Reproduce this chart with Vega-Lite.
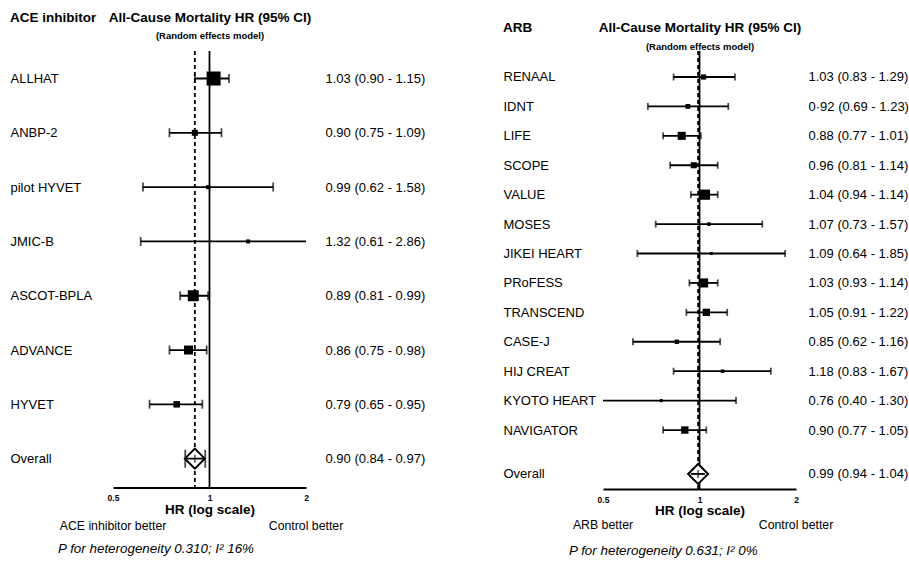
{
  "$schema": "https://vega.github.io/schema/vega-lite/v6.json",
  "padding": {"left": 10, "top": 10, "right": 0, "bottom": 0},
  "spacing": 27,
  "config": {
    "view": {"stroke": null},
    "font": "Liberation Sans",
    "axis": {"labelFont": "Liberation Sans", "titleFont": "Liberation Sans", "labelColor": "black", "titleColor": "black", "grid": false},
    "title": {"font": "Liberation Sans", "color": "black"},
    "text": {"font": "Liberation Sans", "color": "black"}
  },
  "hconcat": [
    {
      "title": {"text": "ACE inhibitor", "anchor": "start", "frame": "bounds", "baseline": "top", "offset": -14, "fontSize": 13.5, "fontWeight": "bold"},
      "width": 193,
      "height": 436.5,
      "data": {"values": [
        {"study": "ALLHAT", "hr": 1.03, "lo": 0.90, "hi": 1.15, "ci": "1.03 (0.90 - 1.15)", "weight": 38.7},
        {"study": "ANBP-2", "hr": 0.90, "lo": 0.75, "hi": 1.09, "ci": "0.90 (0.75 - 1.09)", "weight": 7.1},
        {"study": "pilot HYVET", "hr": 0.99, "lo": 0.62, "hi": 1.58, "ci": "0.99 (0.62 - 1.58)", "weight": 3.1},
        {"study": "JMIC-B", "hr": 1.32, "lo": 0.61, "hi": 2.86, "ci": "1.32 (0.61 - 2.86)", "weight": 3.1},
        {"study": "ASCOT-BPLA", "hr": 0.89, "lo": 0.81, "hi": 0.99, "ci": "0.89 (0.81 - 0.99)", "weight": 23.8},
        {"study": "ADVANCE", "hr": 0.86, "lo": 0.75, "hi": 0.98, "ci": "0.86 (0.75 - 0.98)", "weight": 15.9},
        {"study": "HYVET", "hr": 0.79, "lo": 0.65, "hi": 0.95, "ci": "0.79 (0.65 - 0.95)", "weight": 8.3},
        {"study": "Overall", "hr": 0.90, "lo": 0.84, "hi": 0.97, "ci": "0.90 (0.84 - 0.97)", "weight": 100}
      ]},
      "resolve": {"scale": {"y": "independent"}, "axis": {"x": "independent", "y": "independent"}},
      "layer": [
        {
          "layer": [
            {
              "transform": [{"filter": "datum.study === 'Overall'"}],
              "mark": {"type": "rule", "color": "black", "strokeWidth": 1.8},
              "encoding": {"x": {"datum": 1, "type": "quantitative"}}
            },
            {
              "transform": [{"filter": "datum.study === 'Overall'"}],
              "mark": {"type": "rule", "color": "black", "strokeWidth": 1.8, "strokeDash": [4, 3]},
              "encoding": {"x": {"field": "hr", "type": "quantitative"}}
            },
            {
              "transform": [{"filter": "datum.study === 'Overall'"}],
              "mark": {"type": "point", "shape": "diamond", "size": 400, "filled": true, "fill": "white", "stroke": "black", "strokeWidth": 2, "opacity": 1},
              "encoding": {
                "x": {"field": "hr", "type": "quantitative"},
                "y": {"field": "study", "type": "nominal"}
              }
            },
            {
              "mark": {"type": "rule", "color": "black", "strokeWidth": 1.8, "clip": true},
              "encoding": {
                "x": {
                  "field": "lo", "type": "quantitative",
                  "scale": {"type": "log", "domain": [0.5, 2], "nice": false},
                  "axis": {"orient": "bottom", "values": [0.5, 1, 2], "labelExpr": "toString(datum.value)", "labelFlush": false, "ticks": false, "domainColor": "black", "domainWidth": 2, "labelFontSize": 8.5, "labelFontWeight": "bold", "labelPadding": 6, "title": "HR (log scale)", "titleFontSize": 13.5, "titleFontWeight": "bold", "titlePadding": 0}
                },
                "x2": {"field": "hi"},
                "y": {
                  "field": "study", "type": "nominal",
                  "scale": {"type": "point", "domain": ["ALLHAT", "ANBP-2", "pilot HYVET", "JMIC-B", "ASCOT-BPLA", "ADVANCE", "HYVET", "Overall"], "padding": 0.519, "align": 0.488},
                  "axis": {"orient": "left", "title": null, "domain": false, "ticks": false, "labelAlign": "left", "labelBaseline": "middle", "labelPadding": 103, "labelFontSize": 13}
                }
              }
            },
            {
              "mark": {"type": "tick", "color": "black", "thickness": 1.8, "clip": true},
              "encoding": {
                "x": {"field": "lo", "type": "quantitative"},
                "y": {"field": "study", "type": "nominal"},
                "size": {"condition": {"test": "datum.study === 'Overall'", "value": 18}, "value": 9}
              }
            },
            {
              "mark": {"type": "tick", "color": "black", "thickness": 1.8, "clip": true},
              "encoding": {
                "x": {"field": "hi", "type": "quantitative"},
                "y": {"field": "study", "type": "nominal"},
                "size": {"condition": {"test": "datum.study === 'Overall'", "value": 18}, "value": 9}
              }
            },
            {
              "transform": [{"filter": "datum.study === 'Overall'"}],
              "mark": {"type": "tick", "color": "black", "thickness": 1.5, "size": 8},
              "encoding": {
                "x": {"field": "hr", "type": "quantitative"},
                "y": {"field": "study", "type": "nominal"}
              }
            },
            {
              "transform": [{"filter": "datum.study === 'Overall'"}],
              "mark": {"type": "text", "fontSize": 12.3, "align": "center", "baseline": "middle", "dy": 38.5},
              "encoding": {"x": {"datum": 0.5, "type": "quantitative"}, "y": {"value": "height"}, "text": {"value": "ACE inhibitor better"}}
            },
            {
              "transform": [{"filter": "datum.study === 'Overall'"}],
              "mark": {"type": "text", "fontSize": 12.3, "align": "center", "baseline": "middle", "dy": 38.5},
              "encoding": {"x": {"datum": 2, "type": "quantitative"}, "y": {"value": "height"}, "text": {"value": "Control better"}}
            },
            {
              "transform": [{"filter": "datum.study === 'Overall'"}],
              "mark": {"type": "text", "fontSize": 13.4, "fontStyle": "italic", "align": "left", "baseline": "middle", "dx": -55, "dy": 61.5},
              "encoding": {"x": {"datum": 0.5, "type": "quantitative"}, "y": {"value": "height"}, "text": {"value": "P for heterogeneity 0.310; I² 16%"}}
            }
          ]
        },
        {
          "mark": {"type": "point", "shape": "square", "filled": true, "color": "black", "clip": false},
          "encoding": {
            "x": {
              "field": "hr", "type": "quantitative",
              "axis": {"orient": "top", "values": [1], "labelExpr": "'(Random effects model)'", "labelFlush": false, "ticks": false, "domain": false, "labelFontSize": 9.5, "labelFontWeight": "bold", "labelPadding": 11, "title": "All-Cause Mortality HR (95% CI)", "titleFontSize": 13.5, "titleFontWeight": "bold", "titlePadding": 5.5}
            },
            "y": {
              "field": "ci", "type": "nominal",
              "scale": {"type": "point", "domain": ["1.03 (0.90 - 1.15)", "0.90 (0.75 - 1.09)", "0.99 (0.62 - 1.58)", "1.32 (0.61 - 2.86)", "0.89 (0.81 - 0.99)", "0.86 (0.75 - 0.98)", "0.79 (0.65 - 0.95)", "0.90 (0.84 - 0.97)"], "padding": 0.519, "align": 0.488},
              "axis": {"orient": "right", "title": null, "domain": false, "ticks": false, "labelAlign": "left", "labelBaseline": "middle", "labelPadding": 19, "labelFontSize": 13}
            },
            "size": {"field": "weight", "type": "quantitative", "scale": {"domain": [0, 100], "range": [0, 508]}, "legend": null},
            "opacity": {"condition": {"test": "datum.study === 'Overall'", "value": 0}, "value": 1}
          }
        }
      ]
    },
    {
      "width": 24,
      "height": 518,
      "mark": {"type": "rule", "color": "#333333", "strokeWidth": 1, "strokeDash": [3, 2]},
      "encoding": {"x": {"value": "width"}, "y": {"value": -40}, "y2": {"value": "height"}}
    },
    {
      "title": {"text": "ARB", "anchor": "start", "frame": "bounds", "baseline": "top", "offset": -14, "fontSize": 13.5, "fontWeight": "bold"},
      "width": 193,
      "height": 438,
      "data": {"values": [
        {"study": "RENAAL", "hr": 1.03, "lo": 0.83, "hi": 1.29, "ci": "1.03 (0.83 - 1.29)", "weight": 5.3},
        {"study": "IDNT", "hr": 0.92, "lo": 0.69, "hi": 1.23, "ci": "0·92 (0.69 - 1.23)", "weight": 4.5},
        {"study": "LIFE", "hr": 0.88, "lo": 0.77, "hi": 1.01, "ci": "0.88 (0.77 - 1.01)", "weight": 12.8},
        {"study": "SCOPE", "hr": 0.96, "lo": 0.81, "hi": 1.14, "ci": "0.96 (0.81 - 1.14)", "weight": 7.3},
        {"study": "VALUE", "hr": 1.04, "lo": 0.94, "hi": 1.14, "ci": "1.04 (0.94 - 1.14)", "weight": 20.4},
        {"study": "MOSES", "hr": 1.07, "lo": 0.73, "hi": 1.57, "ci": "1.07 (0.73 - 1.57)", "weight": 2.4},
        {"study": "JIKEI HEART", "hr": 1.09, "lo": 0.64, "hi": 1.85, "ci": "1.09 (0.64 - 1.85)", "weight": 1.8},
        {"study": "PRoFESS", "hr": 1.03, "lo": 0.93, "hi": 1.14, "ci": "1.03 (0.93 - 1.14)", "weight": 16.3},
        {"study": "TRANSCEND", "hr": 1.05, "lo": 0.91, "hi": 1.22, "ci": "1.05 (0.91 - 1.22)", "weight": 10.7},
        {"study": "CASE-J", "hr": 0.85, "lo": 0.62, "hi": 1.16, "ci": "0.85 (0.62 - 1.16)", "weight": 3.7},
        {"study": "HIJ CREAT", "hr": 1.18, "lo": 0.83, "hi": 1.67, "ci": "1.18 (0.83 - 1.67)", "weight": 2.4},
        {"study": "KYOTO HEART", "hr": 0.76, "lo": 0.40, "hi": 1.30, "ci": "0.76 (0.40 - 1.30)", "weight": 1.8},
        {"study": "NAVIGATOR", "hr": 0.90, "lo": 0.77, "hi": 1.05, "ci": "0.90 (0.77 - 1.05)", "weight": 10.7},
        {"study": "Overall", "hr": 0.99, "lo": 0.94, "hi": 1.04, "ci": "0.99 (0.94 - 1.04)", "weight": 100}
      ]},
      "resolve": {"scale": {"y": "independent"}, "axis": {"x": "independent", "y": "independent"}},
      "layer": [
        {
          "layer": [
            {
              "transform": [{"filter": "datum.study === 'Overall'"}],
              "mark": {"type": "rule", "color": "black", "strokeWidth": 1.8},
              "encoding": {"x": {"datum": 1, "type": "quantitative"}}
            },
            {
              "transform": [{"filter": "datum.study === 'Overall'"}],
              "mark": {"type": "rule", "color": "black", "strokeWidth": 1.8, "strokeDash": [4, 3]},
              "encoding": {"x": {"field": "hr", "type": "quantitative"}}
            },
            {
              "transform": [{"filter": "datum.study === 'Overall'"}],
              "mark": {"type": "point", "shape": "diamond", "size": 400, "filled": true, "fill": "white", "stroke": "black", "strokeWidth": 2, "opacity": 1, "yOffset": 14.5},
              "encoding": {
                "x": {"field": "hr", "type": "quantitative"},
                "y": {"field": "study", "type": "nominal"}
              }
            },
            {
              "transform": [{"filter": "datum.study !== 'Overall'"}],
              "mark": {"type": "rule", "color": "black", "strokeWidth": 1.8, "clip": true},
              "encoding": {
                "x": {
                  "field": "lo", "type": "quantitative",
                  "scale": {"type": "log", "domain": [0.5, 2], "nice": false},
                  "axis": {"orient": "bottom", "values": [0.5, 1, 2], "labelExpr": "toString(datum.value)", "labelFlush": false, "ticks": false, "domainColor": "black", "domainWidth": 2, "labelFontSize": 8.5, "labelFontWeight": "bold", "labelPadding": 6, "title": "HR (log scale)", "titleFontSize": 13.5, "titleFontWeight": "bold", "titlePadding": 0}
                },
                "x2": {"field": "hi"},
                "y": {
                  "field": "study", "type": "nominal",
                  "scale": {"type": "point", "domain": ["RENAAL", "IDNT", "LIFE", "SCOPE", "VALUE", "MOSES", "JIKEI HEART", "PRoFESS", "TRANSCEND", "CASE-J", "HIJ CREAT", "KYOTO HEART", "NAVIGATOR", "Overall"], "padding": 0.944, "align": 0.468},
                  "axis": {"orient": "left", "title": null, "domain": false, "ticks": false, "labelAlign": "left", "labelBaseline": "middle", "labelPadding": 100, "labelFontSize": 13, "labelOffset": {"condition": {"test": "datum.value === 'Overall'", "value": 14.5}, "value": 0}}
                }
              }
            },
            {
              "transform": [{"filter": "datum.study !== 'Overall'"}],
              "mark": {"type": "tick", "color": "black", "thickness": 1.8, "size": 7, "clip": true},
              "encoding": {"x": {"field": "lo", "type": "quantitative"}, "y": {"field": "study", "type": "nominal"}}
            },
            {
              "transform": [{"filter": "datum.study !== 'Overall'"}],
              "mark": {"type": "tick", "color": "black", "thickness": 1.8, "size": 7, "clip": true},
              "encoding": {"x": {"field": "hi", "type": "quantitative"}, "y": {"field": "study", "type": "nominal"}}
            },
            {
              "transform": [{"filter": "datum.study === 'Overall'"}],
              "mark": {"type": "rule", "color": "black", "strokeWidth": 1.8, "yOffset": 14.5},
              "encoding": {"x": {"field": "lo", "type": "quantitative"}, "x2": {"field": "hi"}, "y": {"field": "study", "type": "nominal"}}
            },
            {
              "transform": [{"filter": "datum.study === 'Overall'"}],
              "mark": {"type": "tick", "color": "black", "thickness": 1.5, "size": 8, "yOffset": 14.5},
              "encoding": {"x": {"field": "hr", "type": "quantitative"}, "y": {"field": "study", "type": "nominal"}}
            },
            {
              "transform": [{"filter": "datum.study === 'Overall'"}],
              "mark": {"type": "text", "fontSize": 12.3, "align": "center", "baseline": "middle", "dy": 36},
              "encoding": {"x": {"datum": 0.5, "type": "quantitative"}, "y": {"value": "height"}, "text": {"value": "ARB better"}}
            },
            {
              "transform": [{"filter": "datum.study === 'Overall'"}],
              "mark": {"type": "text", "fontSize": 12.3, "align": "center", "baseline": "middle", "dy": 36},
              "encoding": {"x": {"datum": 2, "type": "quantitative"}, "y": {"value": "height"}, "text": {"value": "Control better"}}
            },
            {
              "transform": [{"filter": "datum.study === 'Overall'"}],
              "mark": {"type": "text", "fontSize": 13.4, "fontStyle": "italic", "align": "left", "baseline": "middle", "dx": -34, "dy": 62},
              "encoding": {"x": {"datum": 0.5, "type": "quantitative"}, "y": {"value": "height"}, "text": {"value": "P for heterogeneity 0.631; I² 0%"}}
            }
          ]
        },
        {
          "mark": {"type": "point", "shape": "square", "filled": true, "color": "black", "clip": false},
          "encoding": {
            "x": {
              "field": "hr", "type": "quantitative",
              "axis": {"orient": "top", "values": [1], "labelExpr": "'(Random effects model)'", "labelFlush": false, "ticks": false, "domain": false, "labelFontSize": 9.5, "labelFontWeight": "bold", "labelPadding": 0, "title": "All-Cause Mortality HR (95% CI)", "titleFontSize": 13.5, "titleFontWeight": "bold", "titlePadding": 6.5}
            },
            "y": {
              "field": "ci", "type": "nominal",
              "scale": {"type": "point", "domain": ["1.03 (0.83 - 1.29)", "0·92 (0.69 - 1.23)", "0.88 (0.77 - 1.01)", "0.96 (0.81 - 1.14)", "1.04 (0.94 - 1.14)", "1.07 (0.73 - 1.57)", "1.09 (0.64 - 1.85)", "1.03 (0.93 - 1.14)", "1.05 (0.91 - 1.22)", "0.85 (0.62 - 1.16)", "1.18 (0.83 - 1.67)", "0.76 (0.40 - 1.30)", "0.90 (0.77 - 1.05)", "0.99 (0.94 - 1.04)"], "padding": 0.944, "align": 0.468},
              "axis": {"orient": "right", "title": null, "domain": false, "ticks": false, "labelAlign": "left", "labelBaseline": "middle", "labelPadding": 12, "labelFontSize": 13, "labelOffset": {"condition": {"test": "datum.value === '0.99 (0.94 - 1.04)'", "value": 14.5}, "value": 0}}
            },
            "size": {"field": "weight", "type": "quantitative", "scale": {"domain": [0, 100], "range": [0, 673]}, "legend": null},
            "opacity": {"condition": {"test": "datum.study === 'Overall'", "value": 0}, "value": 1}
          }
        }
      ]
    }
  ]
}
